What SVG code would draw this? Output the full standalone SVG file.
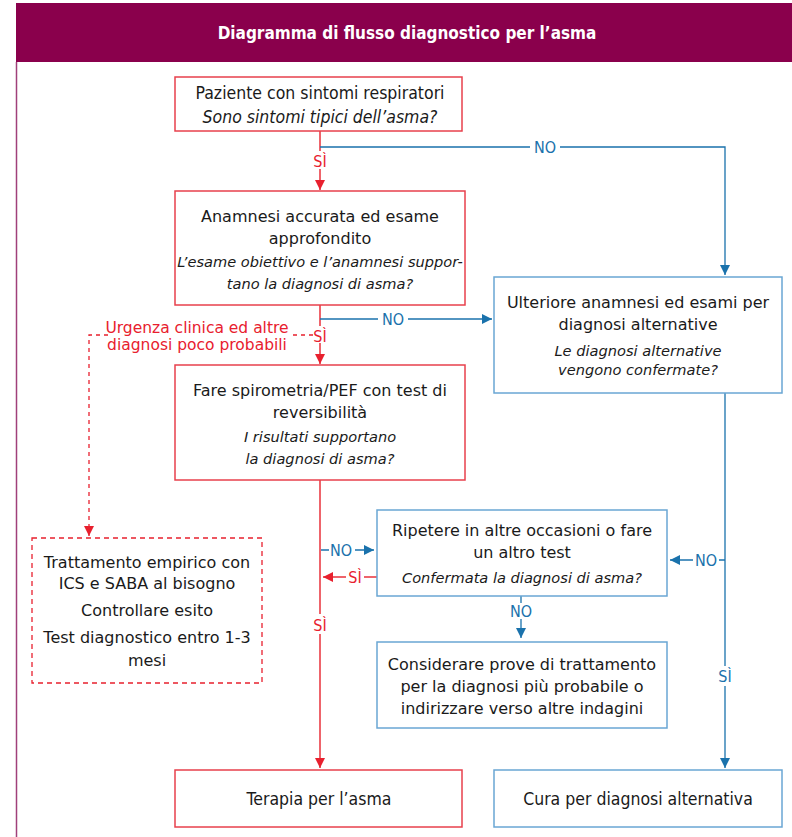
<svg xmlns="http://www.w3.org/2000/svg" width="792" height="837" viewBox="0 0 792 837">
<defs>
<marker id="ar" viewBox="0 0 10 10" refX="10" refY="5" markerWidth="10" markerHeight="10" markerUnits="userSpaceOnUse" orient="auto"><path d="M0,0 L10,5 L0,10 Z" fill="#e8202e"/></marker>
<marker id="ab" viewBox="0 0 10 10" refX="10" refY="5" markerWidth="10" markerHeight="10" markerUnits="userSpaceOnUse" orient="auto"><path d="M0,0 L10,5 L0,10 Z" fill="#1a72ac"/></marker>
</defs>
<style>
.rb{fill:#fff;stroke:#e8404c;stroke-width:1.5}
.bb{fill:#fff;stroke:#6aa6d4;stroke-width:1.5}
.db{fill:#fff;stroke:#e8202e;stroke-width:1.3;stroke-dasharray:5,4}
.t{font-family:"DejaVu Sans",Verdana,sans-serif;font-size:16px;fill:#1a1a1a;text-anchor:middle}
.n{font-family:"DejaVu Sans Condensed","Liberation Sans",sans-serif;font-size:17.5px;fill:#1a1a1a;text-anchor:middle}
.i{font-style:italic;font-size:14.6px}
.rl{fill:none;stroke:#e8303a;stroke-width:1.5}
.bl{fill:none;stroke:#1a72ac;stroke-width:1.3}
.rd{fill:none;stroke:#e8202e;stroke-width:1.3;stroke-dasharray:4,4}
.lr{font-family:"DejaVu Sans Condensed","DejaVu Sans",sans-serif;font-size:16px;fill:#e8202e;text-anchor:middle}
.lb{font-family:"DejaVu Sans Condensed","DejaVu Sans",sans-serif;font-size:16px;fill:#1a72ac;text-anchor:middle}
.u{font-family:"DejaVu Sans",Verdana,sans-serif;font-size:15.5px;fill:#e8202e;text-anchor:middle}
</style>
<rect width="792" height="837" fill="#fff"/>
<g id="header">
<rect x="16" y="3" width="776" height="59" fill="#8a004c"/>
<line x1="16.5" y1="62" x2="16.5" y2="837" stroke="#a0407a" stroke-width="1.5"/>
<text x="407" y="39" font-family="DejaVu Sans Condensed,Liberation Sans,sans-serif" font-weight="bold" font-size="17" fill="#fff" text-anchor="middle">Diagramma di flusso diagnostico per l’asma</text>
</g>
<g id="connectors">
<line class="rl" x1="320" y1="131" x2="320" y2="190" marker-end="url(#ar)"/>
<polyline class="bl" points="320,147 725,147 725,275" marker-end="url(#ab)"/>
<rect x="530" y="139" width="30" height="16" fill="#fff"/>
<text class="lb" x="545" y="153">NO</text>
<rect x="310" y="151" width="20" height="18" fill="#fff"/>
<text class="lr" x="320" y="167">SÌ</text>
<line class="rl" x1="320" y1="305" x2="320" y2="364" marker-end="url(#ar)"/>
<line class="bl" x1="320" y1="319" x2="492" y2="319" marker-end="url(#ab)"/>
<rect x="378" y="311" width="30" height="16" fill="#fff"/>
<text class="lb" x="393" y="325">NO</text>
<rect x="310" y="326" width="20" height="17" fill="#fff"/>
<text class="lr" x="320" y="342">SÌ</text>
<polyline class="rd" points="313,335 289,335"/>
<polyline class="rd" points="108,335 89,335 89,536" marker-end="url(#ar)"/>
<text class="u" x="197" y="333">Urgenza clinica ed altre</text>
<text class="u" x="197" y="350">diagnosi poco probabili</text>
<line class="rl" x1="320" y1="480" x2="320" y2="768" marker-end="url(#ar)"/>
<line class="bl" x1="321" y1="550" x2="374" y2="550" marker-end="url(#ab)"/>
<rect x="329" y="542" width="26" height="16" fill="#fff"/>
<text class="lb" x="341" y="556">NO</text>
<line class="rl" x1="377" y1="577" x2="323" y2="577" marker-end="url(#ar)"/>
<rect x="346" y="569" width="18" height="16" fill="#fff"/>
<text class="lr" x="355" y="583">SÌ</text>
<rect x="310" y="614" width="20" height="20" fill="#fff"/>
<text class="lr" x="320" y="631">SÌ</text>
<line class="bl" x1="521" y1="596" x2="521" y2="638" marker-end="url(#ab)"/>
<rect x="509" y="603" width="24" height="16" fill="#fff"/>
<text class="lb" x="521" y="617">NO</text>
<line class="bl" x1="725" y1="393" x2="725" y2="768" marker-end="url(#ab)"/>
<line class="bl" x1="725" y1="560" x2="670" y2="560" marker-end="url(#ab)"/>
<rect x="693" y="552" width="26" height="16" fill="#fff"/>
<text class="lb" x="706" y="566">NO</text>
<rect x="715" y="666" width="20" height="20" fill="#fff"/>
<text class="lb" x="725" y="682">SÌ</text>
</g>
<g id="n1">
<rect class="rb" x="175" y="77" width="287" height="54"/>
<text class="n" x="320" y="99">Paziente con sintomi respiratori</text>
<text class="n" x="320" y="123" font-style="italic" font-size="15.2">Sono sintomi tipici dell’asma?</text>
</g>
<g id="n2">
<rect class="rb" x="175" y="191" width="290" height="114"/>
<text class="t" x="320" y="222">Anamnesi accurata ed esame</text>
<text class="t" x="320" y="244">approfondito</text>
<text class="t i" x="320" y="267">L’esame obiettivo e l’anamnesi suppor-</text>
<text class="t i" x="320" y="289">tano la diagnosi di asma?</text>
</g>
<g id="n3">
<rect class="bb" x="494" y="277" width="288" height="116"/>
<text class="t" x="638" y="308">Ulteriore anamnesi ed esami per</text>
<text class="t" x="638" y="330">diagnosi alternative</text>
<text class="t i" x="638" y="356">Le diagnosi alternative</text>
<text class="t i" x="638" y="375">vengono confermate?</text>
</g>
<g id="n4">
<rect class="rb" x="175" y="365" width="290" height="115"/>
<text class="t" x="320" y="396">Fare spirometria/PEF con test di</text>
<text class="t" x="320" y="418">reversibilità</text>
<text class="t i" x="320" y="442">I risultati supportano</text>
<text class="t i" x="320" y="464">la diagnosi di asma?</text>
</g>
<g id="n5">
<rect class="db" x="32" y="538" width="230" height="145"/>
<text class="t" x="147" y="568">Trattamento empirico con</text>
<text class="t" x="147" y="589">ICS e SABA al bisogno</text>
<text class="t" x="147" y="616">Controllare esito</text>
<text class="t" x="147" y="643">Test diagnostico entro 1-3</text>
<text class="t" x="147" y="666">mesi</text>
</g>
<g id="n6">
<rect class="bb" x="377" y="510" width="290" height="86"/>
<text class="t" x="522" y="536">Ripetere in altre occasioni o fare</text>
<text class="t" x="522" y="558">un altro test</text>
<text class="t i" x="522" y="583">Confermata la diagnosi di asma?</text>
</g>
<g id="n7">
<rect class="bb" x="377" y="642" width="290" height="86"/>
<text class="t" x="522" y="670">Considerare prove di trattamento</text>
<text class="t" x="522" y="692">per la diagnosi più probabile o</text>
<text class="t" x="522" y="714">indirizzare verso altre indagini</text>
</g>
<g id="n8">
<rect class="rb" x="175" y="770" width="287" height="57"/>
<text class="n" x="319" y="805">Terapia per l’asma</text>
</g>
<g id="n9">
<rect class="bb" x="494" y="770" width="288" height="57"/>
<text class="n" x="638" y="805">Cura per diagnosi alternativa</text>
</g>
</svg>
